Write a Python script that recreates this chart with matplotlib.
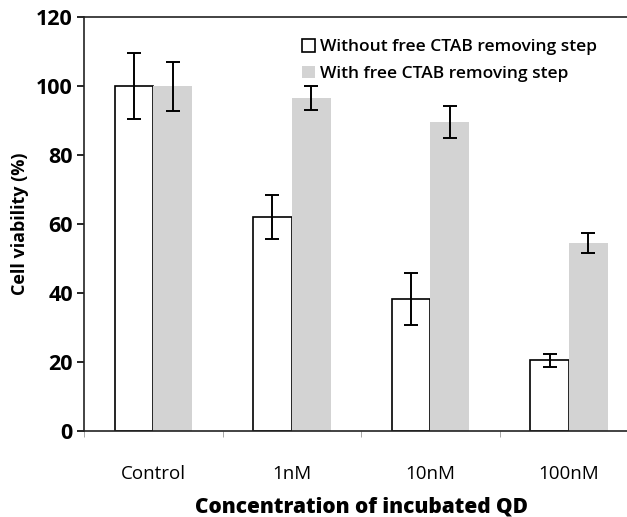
import matplotlib.pyplot as plt
import numpy as np
from matplotlib.patches import Patch

categories = ["Control", "1nM", "10nM", "100nM"]
without_removal = [100, 62, 38.3, 20.6]
without_err = [9.5, 6.4, 7.4, 1.9]
with_removal = [100, 96.5, 89.5, 54.5]
with_err = [7.1, 3.4, 4.6, 3.0]

plt.rcParams['font.family'] = ['Open Sans', 'DejaVu Sans']

fig = plt.figure(figsize=(6.27, 5.17), dpi=100)
ax = fig.add_axes([0.134, 0.166, 0.884, 0.801])

x = np.arange(len(categories)) + 0.5
w = 0.28
ax.bar(x - w / 2, without_removal, w, color="white", edgecolor="black", linewidth=1.2, zorder=2)
ax.bar(x + w / 2, with_removal, w, color="#d3d3d3", edgecolor="none", zorder=2)
ax.errorbar(x - w / 2, without_removal, yerr=without_err, fmt="none", ecolor="black",
            elinewidth=1.4, capsize=5, capthick=1.4, zorder=3)
ax.errorbar(x + w / 2, with_removal, yerr=with_err, fmt="none", ecolor="black",
            elinewidth=1.4, capsize=5, capthick=1.4, zorder=3)

ax.set_xlim(0, 4)
ax.set_ylim(0, 120)
ax.set_yticks(np.arange(0, 121, 20))
ax.set_xticks(x)
ax.set_xticklabels(categories, fontsize=13.5)
ax.set_xticks(np.arange(0, 5), minor=True)
ax.tick_params(axis="x", which="major", length=0, pad=24)
ax.tick_params(axis="x", which="minor", length=4, color="#999999")
ax.tick_params(axis="y", length=5, width=1.2, labelsize=15.5, pad=3)
for lbl in ax.get_yticklabels():
    lbl.set_fontweight("bold")

for s in ["left", "bottom", "top"]:
    ax.spines[s].set_linewidth(1.2)
    ax.spines[s].set_color("#222222")
ax.spines["right"].set_visible(False)

ax.set_ylabel("Cell viability (%)", fontsize=13, fontweight="bold", labelpad=5)
ax.set_xlabel("Concentration of incubated QD", fontsize=15, fontweight="heavy", labelpad=10)

handles = [Patch(facecolor="white", edgecolor="black", linewidth=1.2),
           Patch(facecolor="#d3d3d3", edgecolor="none")]
ax.legend(handles, ["Without free CTAB removing step", "With free CTAB removing step"],
          loc="upper left", bbox_to_anchor=(0.456, 0.955), bbox_transform=fig.transFigure,
          frameon=False, handlelength=0.75, handleheight=0.75,
          handletextpad=0.3, labelspacing=0.6, prop={"weight": "semibold", "size": 12.5})

fig.savefig("out.png", dpi=100)
